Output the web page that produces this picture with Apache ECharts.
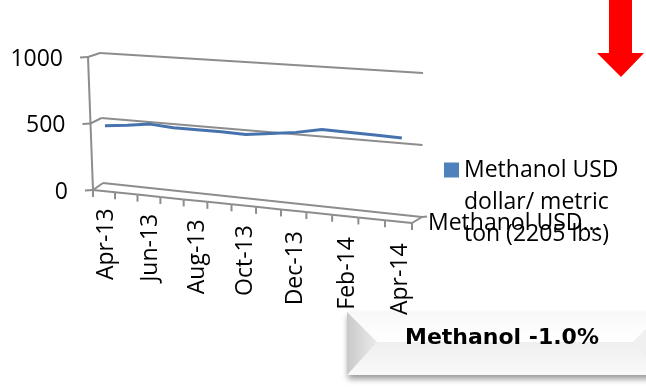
<!DOCTYPE html>
<html>
<head>
<meta charset="utf-8">
<script src="https://cdn.jsdelivr.net/npm/echarts@6/dist/echarts.min.js"></script>
<style>
  html, body { margin: 0; padding: 0; background: #ffffff; }
  #chart { width: 646px; height: 389px; }
</style>
</head>
<body>
<div id="chart"></div>
<script>
// Monthly methanol price, USD per metric ton
const months = ['Apr-13', 'May-13', 'Jun-13', 'Jul-13', 'Aug-13', 'Sep-13', 'Oct-13',
                'Nov-13', 'Dec-13', 'Jan-14', 'Feb-14', 'Mar-14', 'Apr-14'];
const methanolUsd = [477, 495, 517, 504, 504, 503, 497, 518, 541, 575, 571, 565, 559];
const valueTicks = [0, 500, 1000];
const seriesName = 'Methanol USD dollar/ metric ton (2205 lbs)';
const legendLines = ['Methanol USD', 'dollar/ metric', 'ton (2205 lbs)'];
const depthAxisLabel = 'Methanol USD...';
const calloutText = 'Methanol -1.0%';

const FONT = '"Open Sans", sans-serif';
const GRID_COLOR = '#8d8d8d';
const LINE_COLOR = '#4673ad';
const SERIES_COLOR = '#4f81bd';

// 3-D box: corner offsets of the front and back faces relative to the plot rectangle
// (lb = left-bottom, lt = left-top, rb = right-bottom, rt = right-top)
const BOX = {
  front: { lb: [0, 0], lt: [-5, 0], rb: [0, 33], rt: [1, 18] },
  back:  { lb: [10, -7], lt: [7, -4], rb: [10, 27], rt: [11, 16] }
};
const PERSPECTIVE = 0.11;   // category spacing widens towards the viewer (right side)
const LINE_DEPTH = 0.3;     // depth of the series ribbon inside the box

function lerp(a, b, t) { return [a[0] + (b[0] - a[0]) * t, a[1] + (b[1] - a[1]) * t]; }

function project(cs, u, v, w) {
  const g = u - PERSPECTIVE * u * (1 - u);
  const face = f => {
    const lb = [cs.x + f.lb[0], cs.y + cs.height + f.lb[1]];
    const lt = [cs.x + f.lt[0], cs.y + f.lt[1]];
    const rb = [cs.x + cs.width + f.rb[0], cs.y + cs.height + f.rb[1]];
    const rt = [cs.x + cs.width + f.rt[0], cs.y + f.rt[1]];
    return lerp(lerp(lb, rb, g), lerp(lt, rt, g), v);
  };
  return lerp(face(BOX.front), face(BOX.back), w);
}

function toUV(cs, pt) {
  return [(pt[0] - cs.x) / cs.width, (cs.y + cs.height - pt[1]) / cs.height];
}

function seg(a, b, color, width) {
  return {
    type: 'line',
    shape: { x1: a[0], y1: a[1], x2: b[0], y2: b[1] },
    style: { stroke: color || GRID_COLOR, lineWidth: width || 2 }
  };
}

function label(x, y, text, extra) {
  return {
    type: 'text', x: x, y: y,
    rotation: (extra && extra.rotation) || 0,
    style: Object.assign({
      text: text, fill: '#000000', fontSize: 23, fontFamily: FONT,
      align: 'left', verticalAlign: 'middle'
    }, extra && extra.style)
  };
}

// value axis: walls, gridlines, ticks and labels
function renderWalls(params, api) {
  const cs = params.coordSys;
  const val = api.value(1);
  const v = toUV(cs, api.coord([0, val]))[1];
  const fl = project(cs, 0, v, 0);
  const bl = project(cs, 0, v, 1);
  const br = project(cs, 1, v, 1);
  const children = [
    seg(fl, bl),
    seg(bl, br),
    seg([fl[0] - 8, fl[1] + 0.5], fl),
    label(fl[0] - 25, fl[1] + 2, String(val), { style: { align: 'right' } })
  ];
  if (params.dataIndex === 0) {
    children.push(seg(project(cs, 0, 0, 0), project(cs, 0, 1, 0)));
  }
  return { type: 'group', children: children };
}

// category axis along the front edge of the floor
function renderCategories(params, api) {
  const cs = params.coordSys;
  const i = api.value(0);
  const c = api.coord([i, 0]);
  const band = api.size([1, 0])[0];
  const u0 = (c[0] - band / 2 - cs.x) / cs.width;
  const u1 = (c[0] + band / 2 - cs.x) / cs.width;
  const uc = (c[0] - cs.x) / cs.width;
  const a = project(cs, u0, 0, 0);
  const b = project(cs, u1, 0, 0);
  const children = [seg(a, b), seg(a, [a[0], a[1] + 7])];
  if (params.dataIndex === params.dataInsideLength - 1) {
    children.push(seg(b, [b[0], b[1] + 7]));
  }
  if (i % 2 === 0) {
    const p = project(cs, uc, 0, 0);
    children.push(label(p[0] + 2, p[1] + 17 + 5 * uc, months[i], {
      rotation: Math.PI / 2,
      style: { align: 'right' }
    }));
  }
  return { type: 'group', children: children };
}

// depth axis at the right end of the floor
function renderDepth(params, api) {
  const cs = params.coordSys;
  const fr = project(cs, 1, 0, 0);
  const br = project(cs, 1, 0, 1);
  const mid = lerp(fr, br, 0.5);
  return {
    type: 'group',
    children: [
      seg(fr, br),
      seg(br, [br[0] + 5, br[1] - 0.5]),
      label(mid[0] + 11, mid[1] + 3, depthAxisLabel)
    ]
  };
}

// series ribbon
function renderLine(params, api) {
  if (params.dataIndex !== 0) return null;
  const cs = params.coordSys;
  const pts = [];
  for (let j = 0; j < params.dataInsideLength; j++) {
    const uv = toUV(cs, api.coord([api.value(0, j), api.value(1, j)]));
    pts.push(project(cs, uv[0], uv[1], LINE_DEPTH));
  }
  return {
    type: 'polyline',
    shape: { points: pts },
    style: { stroke: LINE_COLOR, lineWidth: 3, fill: null, lineJoin: 'round', lineCap: 'butt' }
  };
}

const chart = echarts.init(document.getElementById('chart'), null, { renderer: 'canvas' });

chart.setOption({
  animation: false,
  backgroundColor: '#ffffff',
  grid: { left: 93, top: 57, width: 319, height: 133 },
  xAxis: { type: 'category', data: months, boundaryGap: true, show: false },
  yAxis: { type: 'value', min: 0, max: 1000, interval: 500, show: false },
  legend: {
    left: 444,
    top: 90,
    padding: 0,
    orient: 'vertical',
    data: [{ name: seriesName, icon: 'rect' }],
    itemWidth: 15,
    itemHeight: 15,
    selectedMode: false,
    // two empty lines above keep the icon level with the first text line
    formatter: () => '\n\n' + legendLines.join('\n'),
    textStyle: { fontFamily: FONT, fontSize: 23, color: '#000000', lineHeight: 32 }
  },
  series: [
    {
      type: 'custom', name: 'walls', silent: true, clip: false, z: 1,
      data: valueTicks.map(t => [0, t]),
      renderItem: renderWalls
    },
    {
      type: 'custom', name: 'categories', silent: true, clip: false, z: 1,
      data: months.map((m, i) => [i, 0]),
      renderItem: renderCategories
    },
    {
      type: 'custom', name: 'depth', silent: true, clip: false, z: 1,
      data: [[0, 0]],
      renderItem: renderDepth
    },
    {
      type: 'custom', name: seriesName, silent: true, clip: false, z: 3,
      itemStyle: { color: SERIES_COLOR },
      data: methanolUsd.map((v, i) => [i, v]),
      renderItem: renderLine
    }
  ],
  graphic: [
    {
      // red down arrow
      type: 'polygon', silent: true,
      shape: { points: [[609, 0], [632, 0], [632, 53], [644, 53], [621, 77], [597, 53], [609, 53]] },
      style: { fill: '#ff0000' }
    },
    {
      // bevelled callout
      type: 'group', x: 347, y: 312, silent: true,
      children: [
        {
          type: 'rect', shape: { x: 0, y: 0, width: 316, height: 63 },
          style: { fill: '#eeeeee', shadowBlur: 6, shadowOffsetY: 4, shadowOffsetX: 1, shadowColor: 'rgba(0,0,0,0.4)' }
        },
        {
          type: 'polygon', shape: { points: [[0, 0], [316, 0], [286, 30], [30, 30]] },
          style: { fill: new echarts.graphic.LinearGradient(0, 0, 0, 1, [
            { offset: 0, color: '#f8f8f8' }, { offset: 1, color: '#ffffff' }]) }
        },
        {
          type: 'polygon', shape: { points: [[30, 30], [286, 30], [316, 63], [0, 63]] },
          style: { fill: new echarts.graphic.LinearGradient(0, 0, 0, 1, [
            { offset: 0, color: '#efefef' }, { offset: 1, color: '#f9f9f9' }]) }
        },
        {
          type: 'polygon', shape: { points: [[0, 0], [30, 30], [0, 63]] },
          style: { fill: new echarts.graphic.LinearGradient(0, 0, 1, 0, [
            { offset: 0, color: '#c9c9c9' }, { offset: 1, color: '#ebebeb' }]) }
        },
        {
          type: 'polygon', shape: { points: [[316, 0], [286, 30], [316, 63]] },
          style: { fill: '#f0f0f0' }
        },
        {
          type: 'text', x: 58, y: 26,
          style: {
            text: calloutText, fill: '#000000', fontSize: 22, fontWeight: 'bold',
            fontFamily: '"DejaVu Sans", sans-serif', align: 'left', verticalAlign: 'middle'
          }
        }
      ]
    }
  ]
});
</script>
</body>
</html>
